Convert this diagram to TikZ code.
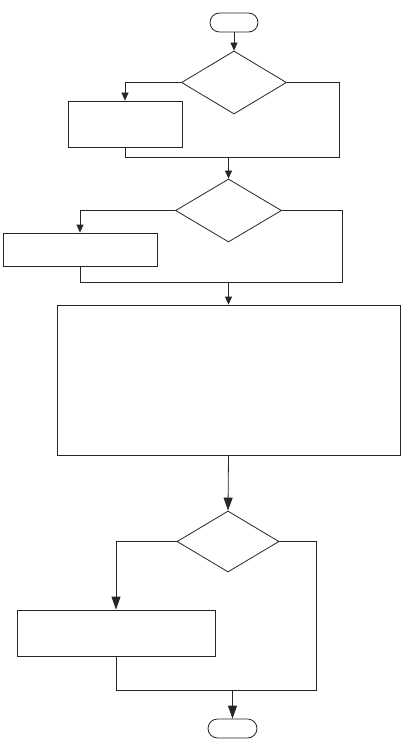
\documentclass[tikz,border=0pt]{standalone}
\usetikzlibrary{shapes.geometric,arrows.meta}
\begin{document}
\begin{tikzpicture}[x=1pt,y=-1pt,
  line/.style={draw=black!85,line width=0.8pt},
  arr/.style={line,-{Triangle[length=8pt,width=7pt]}},
  arrbig/.style={line,-{Triangle[length=13pt,width=9pt]}},
  term/.style={line,rounded corners=9.5pt,minimum width=48pt,minimum height=19pt,inner sep=0pt},
  dec/.style={line,diamond,inner sep=0pt},
  proc/.style={line,rectangle,inner sep=0pt}]
\useasboundingbox (0,0) rectangle (404,746);
% nodes
\node[term] (start) at (234,22.5) {};
\node[dec,minimum width=105pt,minimum height=63pt] (d1) at (234,82.5) {};
\node[proc,minimum width=114pt,minimum height=46pt] (b1) at (125,124) {};
\node[dec,minimum width=106pt,minimum height=63pt] (d2) at (228.5,210.5) {};
\node[proc,minimum width=154pt,minimum height=33pt] (b2) at (80,249.5) {};
\node[proc,minimum width=343pt,minimum height=150pt] (big) at (228.5,380) {};
\node[dec,minimum width=102pt,minimum height=61pt] (d3) at (228,541.5) {};
\node[proc,minimum width=198pt,minimum height=46pt] (b3) at (116,633) {};
\node[term,minimum width=49pt] (end) at (232.5,728.5) {};
% junction coordinates
\coordinate (r1) at (339,157);
\coordinate (j1) at (228.5,157);
\coordinate (r2) at (342,282);
\coordinate (j2) at (228.5,282);
\coordinate (r3) at (316,690);
\coordinate (j3) at (232.5,690);
% connectors
\draw[arr] (start) -- (d1.north);
\draw[arr] (d1.west) -| (b1.north);
\draw[line] (d1.east) -| (r1) -- (b1.south |- r1) -- (b1.south);
\draw[arr] (j1) -- (d2.north);
\draw[arr] (d2.west) -| (b2.north);
\draw[line] (d2.east) -| (r2) -- (b2.south |- r2) -- (b2.south);
\draw[arr] (j2) -- (big.north);
\draw[arrbig] (big.south) -- (d3.north);
\draw[arrbig] (d3.west) -| (b3.north);
\draw[line] (d3.east) -| (r3) -- (b3.south |- r3) -- (b3.south);
\draw[arrbig] (j3) -- (end.north);
\end{tikzpicture}
\end{document}
